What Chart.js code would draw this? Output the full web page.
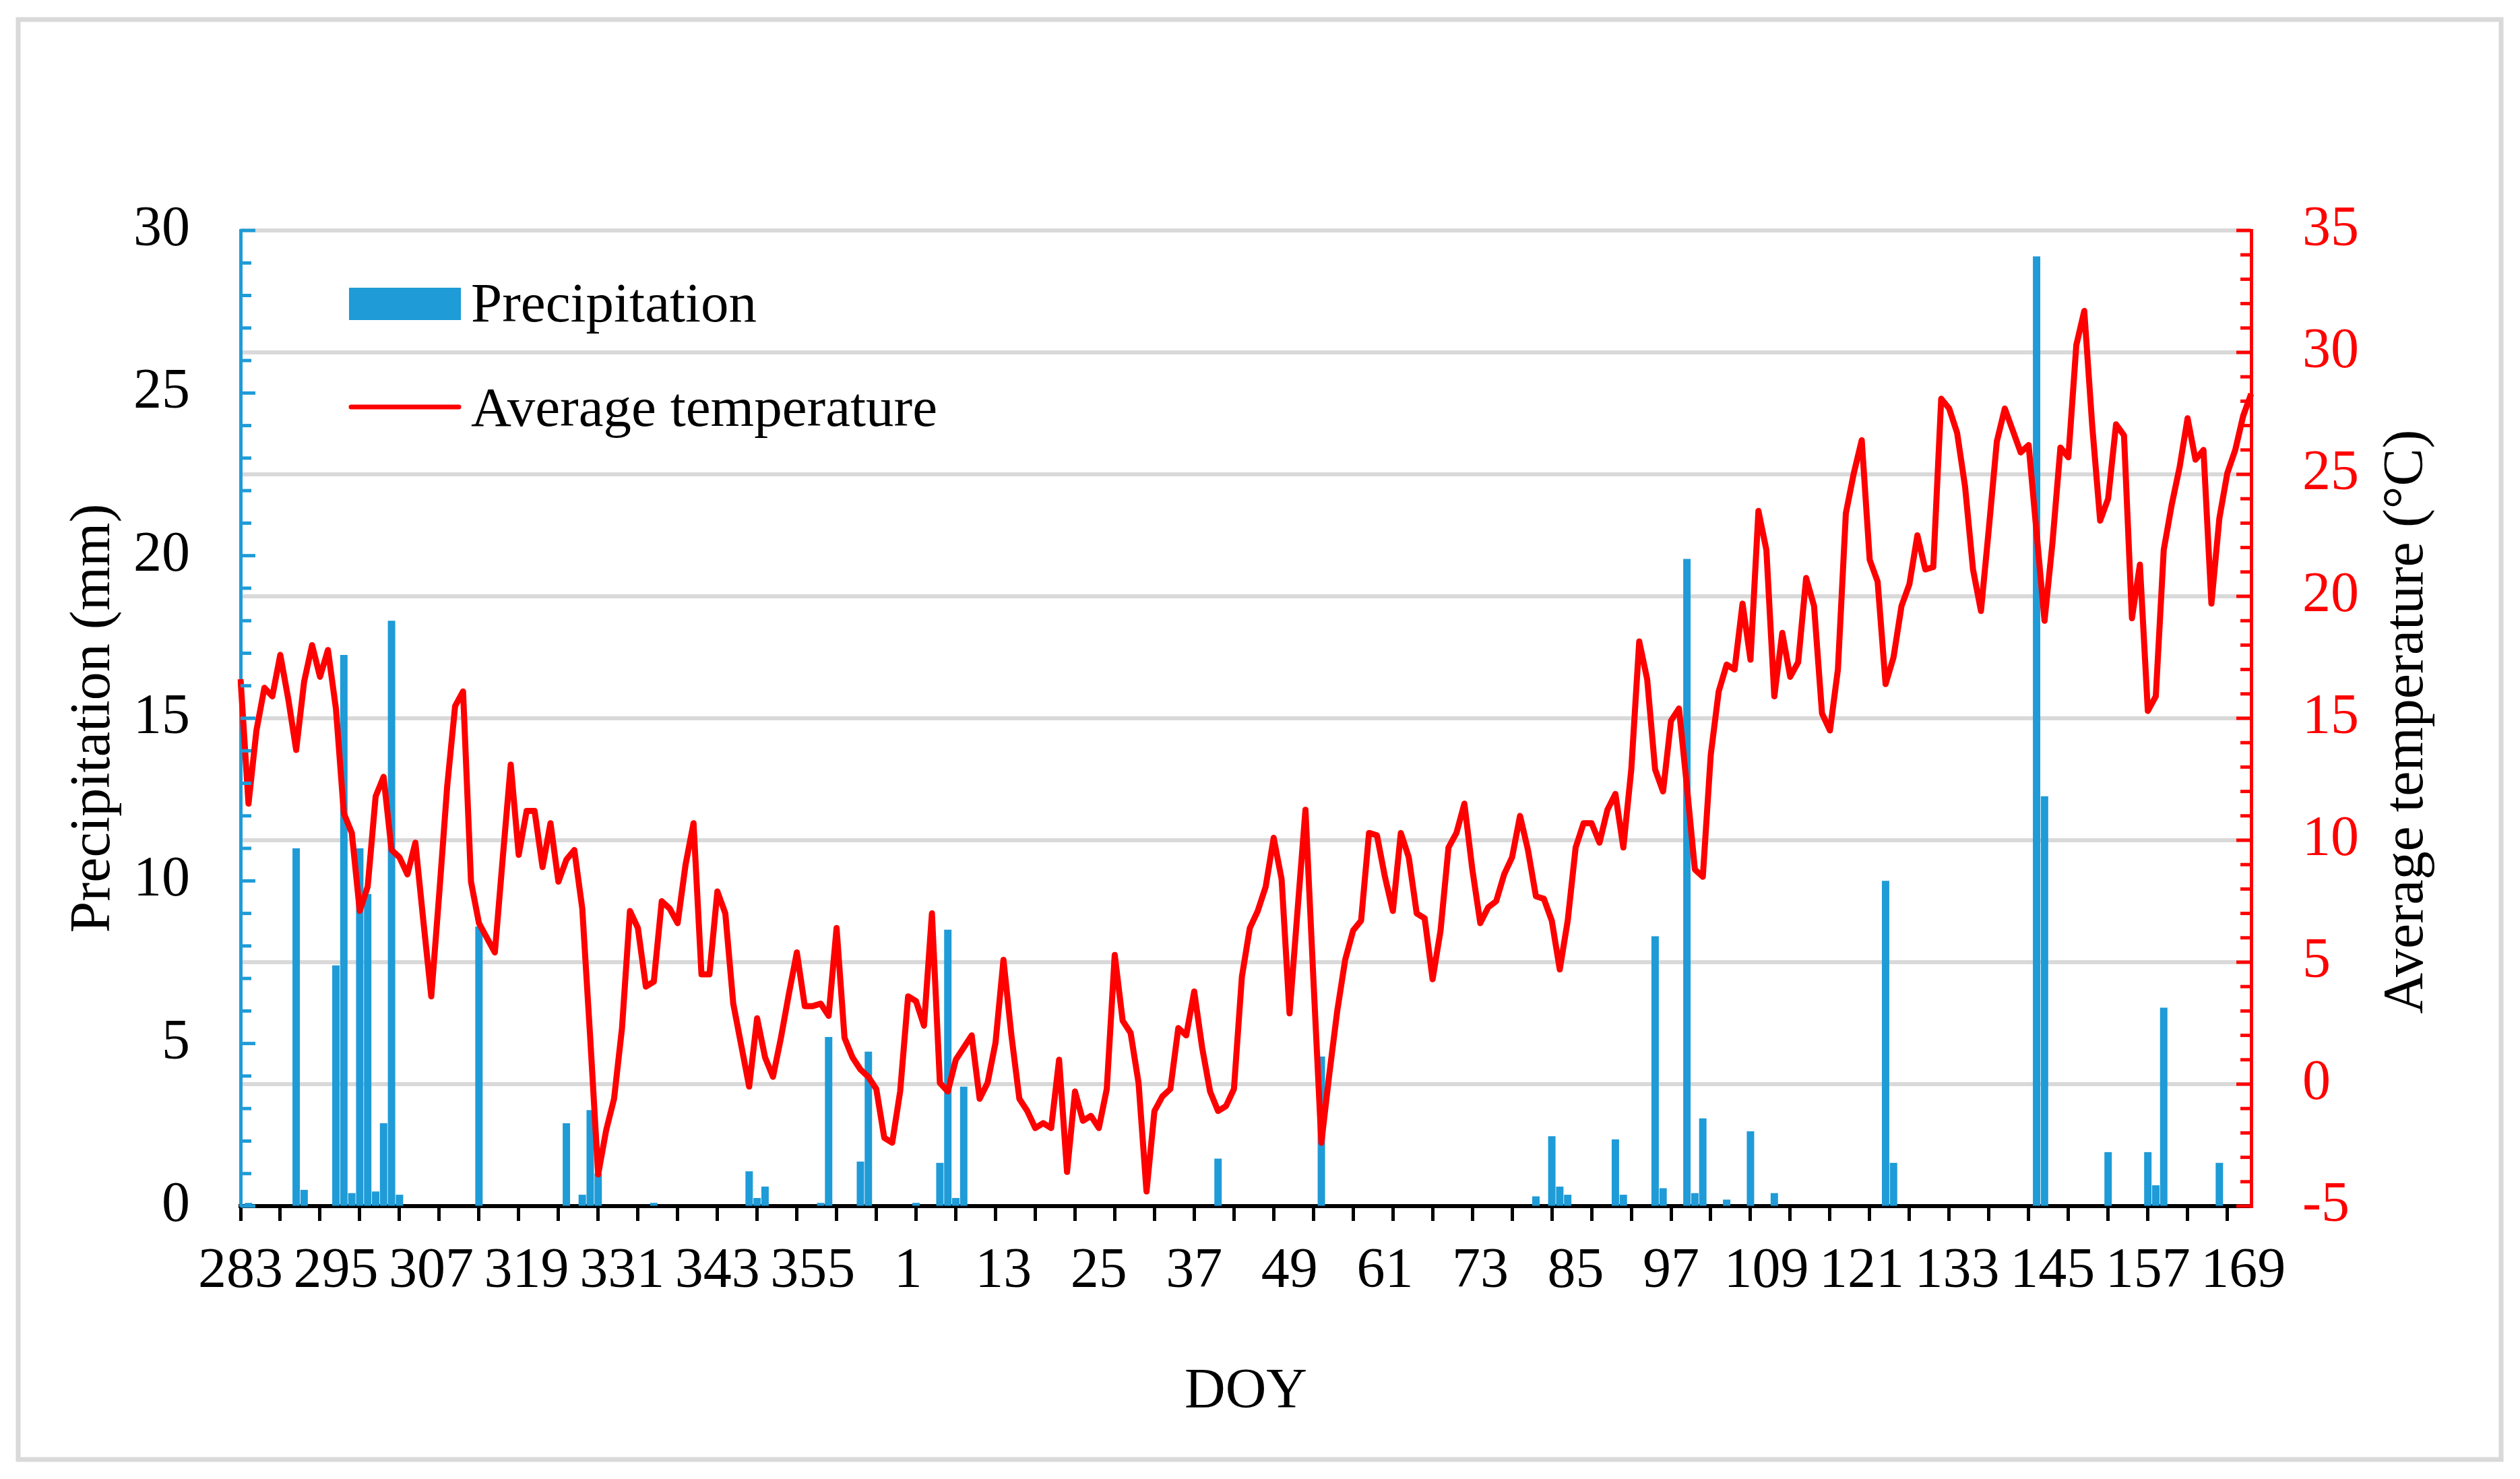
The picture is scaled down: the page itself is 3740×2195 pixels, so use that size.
<!DOCTYPE html>
<html>
<head>
<meta charset="utf-8">
<script src="https://cdn.jsdelivr.net/npm/chart.js@4.4.0/dist/chart.umd.min.js"></script>
<style>
  html, body { margin: 0; padding: 0; background: #fff; }
  canvas { display: block; }
</style>
</head>
<body>
<canvas id="chart" width="3740" height="2195"></canvas>
<script>
// DOY runs from 283 of a leap year to 170 of the next year
var firstYearDays = [283, 366];
var secondYearDays = [1, 170];
var doy = [];
for (var d = firstYearDays[0]; d <= firstYearDays[1]; d++) doy.push(String(d));
for (var d = secondYearDays[0]; d <= secondYearDays[1]; d++) doy.push(String(d));

// daily precipitation (mm), 12 days per row
var precipitation = [
    0, 0.1, 0, 0, 0, 0, 0, 11.0, 0.5, 0, 0, 0,
    7.4, 16.95, 0.4, 11.0, 9.6, 0.45, 2.55, 18.0, 0.35, 0, 0, 0,
    0, 0, 0, 0, 0, 0, 8.6, 0, 0, 0, 0, 0,
    0, 0, 0, 0, 0, 2.55, 0, 0.35, 2.95, 1.0, 0, 0,
    0, 0, 0, 0, 0.1, 0, 0, 0, 0, 0, 0, 0,
    0, 0, 0, 0, 1.07, 0.25, 0.6, 0, 0, 0, 0, 0,
    0, 0.1, 5.2, 0, 0, 0, 1.37, 4.75, 0, 0, 0, 0,
    0, 0.1, 0, 0, 1.33, 8.5, 0.25, 3.67, 0, 0, 0, 0,
    0, 0, 0, 0, 0, 0, 0, 0, 0, 0, 0, 0,
    0, 0, 0, 0, 0, 0, 0, 0, 0, 0, 0, 0,
    0, 0, 0, 1.46, 0, 0, 0, 0, 0, 0, 0, 0,
    0, 0, 0, 0, 4.6, 0, 0, 0, 0, 0, 0, 0,
    0, 0, 0, 0, 0, 0, 0, 0, 0, 0, 0, 0,
    0, 0, 0, 0, 0, 0, 0, 0.3, 0, 2.15, 0.6, 0.35,
    0, 0, 0, 0, 0, 2.05, 0.35, 0, 0, 0, 8.3, 0.55,
    0, 0, 19.9, 0.4, 2.7, 0, 0, 0.2, 0, 0, 2.3, 0,
    0, 0.4, 0, 0, 0, 0, 0, 0, 0, 0, 0, 0,
    0, 0, 0, 10.0, 1.33, 0, 0, 0, 0, 0, 0, 0,
    0, 0, 0, 0, 0, 0, 0, 0, 0, 0, 29.2, 12.6,
    0, 0, 0, 0, 0, 0, 0, 1.66, 0, 0, 0, 0,
    1.66, 0.64, 6.1, 0, 0, 0, 0, 0, 0, 1.33, 0, 0,
    0, 0
];

// daily average temperature (°C), 12 days per row
var avgTemperature = [
    16.6, 11.5, 14.5, 16.25, 15.9, 17.6, 15.8, 13.7, 16.5, 18.0, 16.7, 17.8,
    15.4, 11.1, 10.3, 7.1, 8.1, 11.8, 12.6, 9.6, 9.3, 8.6, 9.9, 6.7,
    3.6, 7.8, 12.2, 15.5, 16.1, 8.3, 6.6, 6.0, 5.4, 9.3, 13.1, 9.4,
    11.2, 11.2, 8.9, 10.7, 8.3, 9.2, 9.6, 7.2, 1.9, -3.7, -1.9, -0.6,
    2.3, 7.1, 6.4, 4.0, 4.2, 7.5, 7.2, 6.6, 9.0, 10.7, 4.5, 4.5,
    7.9, 7.0, 3.3, 1.6, -0.1, 2.7, 1.1, 0.3, 1.9, 3.7, 5.4, 3.2,
    3.2, 3.3, 2.8, 6.4, 1.9, 1.1, 0.6, 0.3, -0.2, -2.2, -2.4, -0.3,
    3.6, 3.4, 2.4, 7.0, 0.05, -0.3, 1.0, 1.5, 2.0, -0.6, 0.05, 1.7,
    5.1, 2.0, -0.6, -1.1, -1.8, -1.6, -1.8, 1.0, -3.6, -0.3, -1.5, -1.3,
    -1.8, -0.2, 5.3, 2.6, 2.1, 0.05, -4.4, -1.1, -0.5, -0.2, 2.3, 2.0,
    3.8, 1.5, -0.3, -1.1, -0.9, -0.2, 4.4, 6.4, 7.1, 8.1, 10.1, 8.4,
    2.9, 7.1, 11.25, 4.3, -2.4, 0.4, 3.0, 5.1, 6.3, 6.7, 10.3, 10.2,
    8.5, 7.1, 10.3, 9.3, 7.0, 6.8, 4.3, 6.3, 9.7, 10.3, 11.5, 8.8,
    6.6, 7.25, 7.5, 8.6, 9.3, 11.0, 9.6, 7.7, 7.6, 6.7, 4.7, 6.7,
    9.7, 10.7, 10.7, 9.9, 11.25, 11.9, 9.7, 12.9, 18.15, 16.6, 12.9, 12.0,
    14.9, 15.4, 12.2, 8.8, 8.5, 13.5, 16.1, 17.2, 17.0, 19.7, 17.4, 23.5,
    21.9, 15.9, 18.5, 16.7, 17.3, 20.75, 19.6, 15.2, 14.5, 17.0, 23.4, 25.05,
    26.4, 21.5, 20.6, 16.4, 17.5, 19.6, 20.5, 22.5, 21.1, 21.2, 28.1, 27.7,
    26.7, 24.5, 21.1, 19.4, 22.8, 26.35, 27.7, 26.8, 25.9, 26.2, 22.6, 19.0,
    22.2, 26.1, 25.7, 30.3, 31.7, 27.0, 23.1, 24.0, 27.05, 26.6, 19.1, 21.3,
    15.3, 15.9, 21.9, 23.75, 25.3, 27.3, 25.6, 26.0, 19.7, 23.2, 25.05, 26.0,
    27.4, 28.3
];

var precipTicks = [0, 5, 10, 15, 20, 25, 30];
var tempTicks = [-5, 0, 5, 10, 15, 20, 25, 30, 35];
var labelEvery = 12;   // a DOY label every 12 days
var tickEvery = 5;     // a tick mark every 5 days

var BLUE = '#1f9bd7';
var RED = '#ff0000';
var FONT = '"Liberation Serif", "Times New Roman", serif';

Chart.defaults.font.family = FONT;
Chart.defaults.font.size = 84;
Chart.defaults.color = '#000';

// grey frame round the whole chart
var framePlugin = {
    id: 'frame',
    beforeDraw: function (chart) {
        var ctx = chart.ctx;
        ctx.save();
        ctx.fillStyle = '#fff';
        ctx.fillRect(0, 0, chart.width, chart.height);
        ctx.strokeStyle = '#d9d9d9';
        ctx.lineWidth = 7;
        ctx.strokeRect(27, 29, chart.width - 55, chart.height - 58);
        ctx.restore();
    }
};

// value axes have their tick marks pointing into the plot, longer at every labelled value
var innerTicksPlugin = {
    id: 'innerTicks',
    afterDatasetsDraw: function (chart) {
        var ctx = chart.ctx;
        ctx.save();
        ctx.lineWidth = 5;
        [['y', precipTicks, BLUE, 1], ['y1', tempTicks, RED, -1]].forEach(function (a) {
            var scale = chart.scales[a[0]];
            var x0 = a[3] > 0 ? scale.right : scale.left;
            ctx.strokeStyle = a[2];
            scale.ticks.forEach(function (t) {
                var y = scale.getPixelForValue(t.value);
                var len = a[1].indexOf(t.value) >= 0 ? 22 : 16;
                ctx.beginPath();
                ctx.moveTo(x0, y);
                ctx.lineTo(x0 + a[3] * len, y);
                ctx.stroke();
            });
        });
        ctx.restore();
    }
};

// legend in the upper left of the plot and the right axis title read bottom to top
var legendPlugin = {
    id: 'insideLegend',
    afterDraw: function (chart) {
        var ctx = chart.ctx, area = chart.chartArea;
        var bars = chart.data.datasets[1], line = chart.data.datasets[0];
        ctx.save();
        ctx.font = '83px ' + FONT;
        ctx.fillStyle = bars.backgroundColor;
        ctx.fillRect(area.left + 161, area.top + 85, 166, 48);
        ctx.strokeStyle = line.borderColor;
        ctx.lineWidth = 7;
        ctx.lineCap = 'round';
        ctx.beginPath();
        ctx.moveTo(area.left + 164, area.top + 262);
        ctx.lineTo(area.left + 324, area.top + 262);
        ctx.stroke();
        ctx.fillStyle = '#000';
        ctx.textBaseline = 'alphabetic';
        ctx.fillText(bars.label, area.left + 342, area.top + 135);
        ctx.fillText(line.label, area.left + 342, area.top + 290);

        ctx.font = '84px ' + FONT;
        ctx.textAlign = 'center';
        ctx.textBaseline = 'middle';
        ctx.translate(area.right + 232, (area.top + area.bottom) / 2 + 5);
        ctx.rotate(-Math.PI / 2);
        ctx.fillText('Average temperature (\u00B0C)', 0, 0);
        ctx.restore();
    }
};

var chart = new Chart(document.getElementById('chart').getContext('2d'), {
    type: 'bar',
    data: {
        labels: doy,
        datasets: [{
            type: 'line',
            label: 'Average temperature',
            data: avgTemperature,
            yAxisID: 'y1',
            borderColor: RED,
            borderWidth: 9,
            borderJoinStyle: 'round',
            pointRadius: 0,
            tension: 0,
            order: 0
        }, {
            type: 'bar',
            label: 'Precipitation',
            data: precipitation,
            yAxisID: 'y',
            backgroundColor: BLUE,
            barPercentage: 0.93,
            categoryPercentage: 1,
            order: 1
        }]
    },
    options: {
        responsive: false,
        animation: false,
        devicePixelRatio: 1,
        events: [],
        layout: {padding: {top: 342, left: 0, right: 0, bottom: 0}},
        plugins: {legend: {display: false}, tooltip: {enabled: false}},
        scales: {
            x: {
                type: 'category',
                offset: false,
                afterFit: function (scale) { scale.height = 405; },
                grid: {
                    offset: false,
                    drawOnChartArea: false,
                    tickLength: 22,
                    tickWidth: 5,
                    tickColor: function (c) { return c.index % tickEvery === 0 ? '#000' : 'rgba(0,0,0,0)'; }
                },
                border: {color: '#000', width: 6},
                ticks: {
                    autoSkip: false,
                    maxRotation: 0,
                    minRotation: 0,
                    padding: 26,
                    callback: function (value, index) {
                        return index % labelEvery === 0 ? this.getLabelForValue(value) : '';
                    }
                },
                title: {display: true, text: 'DOY', padding: {top: 0, bottom: 78}}
            },
            y: {
                position: 'left',
                min: precipTicks[0],
                max: precipTicks[precipTicks.length - 1],
                afterFit: function (scale) { scale.width = 357; },
                grid: {drawOnChartArea: false, drawTicks: false},
                border: {color: BLUE, width: 5},
                ticks: {
                    stepSize: 1,
                    autoSkip: false,
                    padding: 75,
                    callback: function (v) { return precipTicks.indexOf(v) >= 0 ? v : ''; }
                },
                title: {display: true, text: 'Precipitation (mm)', padding: {top: 90, bottom: 0}}
            },
            y1: {
                position: 'right',
                min: tempTicks[0],
                max: tempTicks[tempTicks.length - 1],
                afterFit: function (scale) { scale.width = 399; },
                grid: {
                    drawTicks: false,
                    lineWidth: 6,
                    color: function (c) {
                        return c.tick && tempTicks.indexOf(c.tick.value) >= 0 ? '#d9d9d9' : 'rgba(0,0,0,0)';
                    }
                },
                border: {color: RED, width: 5},
                ticks: {
                    stepSize: 1,
                    autoSkip: false,
                    padding: 76,
                    color: RED,
                    callback: function (v) { return tempTicks.indexOf(v) >= 0 ? v : ''; }
                }
            }
        }
    },
    plugins: [framePlugin, innerTicksPlugin, legendPlugin]
});
</script>
</body>
</html>
